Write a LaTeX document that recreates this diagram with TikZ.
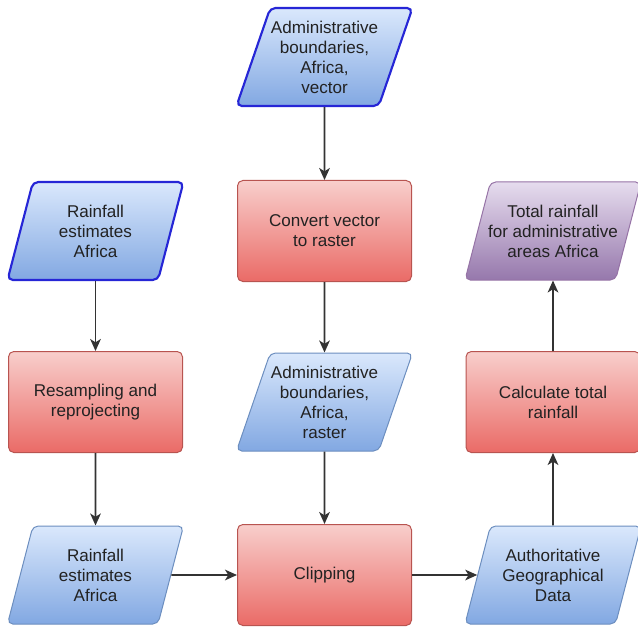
\documentclass[tikz,border=0pt]{standalone}
\usepackage{fontspec}
\setmainfont{Liberation Sans}
\usetikzlibrary{shapes.geometric,arrows.meta}

\definecolor{blueTop}{RGB}{218,232,252}
\definecolor{blueBot}{RGB}{130,168,226}
\definecolor{blueLine}{RGB}{108,142,191}
\definecolor{srcLine}{RGB}{38,38,214}
\definecolor{redTop}{RGB}{248,206,204}
\definecolor{redBot}{RGB}{234,107,102}
\definecolor{redLine}{RGB}{184,84,80}
\definecolor{purpTop}{RGB}{230,220,238}
\definecolor{purpBot}{RGB}{150,120,172}
\definecolor{purpLine}{RGB}{150,115,166}
\definecolor{arrowGray}{RGB}{51,51,51}
\definecolor{txtGray}{RGB}{34,34,34}

\tikzset{every picture/.style={line width=0.75pt}}
\tikzset{
  dataio/.style={trapezium, trapezium left angle=67.5, trapezium right angle=112.5,
    trapezium stretches body, minimum width=132pt, minimum height=73.5pt,
    inner xsep=-12pt, rounded corners=4pt, draw=blueLine,
    top color=blueTop, bottom color=blueBot, text=txtGray, align=center,
    font=\fontsize{12.8}{15}\selectfont},
  srcio/.style={dataio, draw=srcLine, line width=1.6pt},
  resultio/.style={dataio, draw=purpLine, top color=purpTop, bottom color=purpBot},
  procbox/.style={rectangle, rounded corners=4pt, minimum width=130.5pt,
    minimum height=75.75pt, draw=redLine, top color=redTop, bottom color=redBot,
    text=txtGray, align=center, font=\fontsize{12.8}{15}\selectfont},
  flow/.style={draw=arrowGray, line width=1.2pt, -{Stealth[length=9pt,width=8pt,inset=2.5pt]}}
}

\begin{document}
\begin{tikzpicture}[x=0.75pt,y=0.75pt,yscale=-1,xscale=1]
\useasboundingbox (0,0) rectangle (638,627);

%Shape: Parallelogram [admin vector]
\draw (324.5,57) node [srcio] (advec) {Administrative\\boundaries,\\Africa,\\vector};
%Shape: Parallelogram [rainfall in]
\draw (95.5,231) node [srcio] (rainin) {Rainfall\\estimates\\Africa};
%Shape: Rectangle [convert]
\draw (324.5,231) node [procbox] (conv) {Convert vector\\to raster};
%Shape: Parallelogram [total]
\draw (553,231) node [resultio] (total) {Total rainfall\\for administrative\\areas Africa};

%Shape: Rectangle [resample]
\draw (95.5,402) node [procbox] (resamp) {Resampling and\\reprojecting};
%Shape: Parallelogram [admin raster]
\draw (324.5,402) node [dataio] (adras) {Administrative\\boundaries,\\Africa,\\raster};
%Shape: Rectangle [calculate]
\draw (553,402) node [procbox] (calc) {Calculate total\\rainfall};

%Shape: Parallelogram [rainfall out]
\draw (95.5,575) node [dataio] (rainout) {Rainfall\\estimates\\Africa};
%Shape: Rectangle [clipping]
\draw (324.5,575) node [procbox] (clip) {Clipping};
%Shape: Parallelogram [authoritative]
\draw (553,575) node [dataio] (auth) {Authoritative\\Geographical\\Data};

%Straight Lines
\draw [flow] (advec) -- (conv);
\draw [flow] (conv) -- (adras);
\draw [flow] (adras) -- (clip);
\draw [flow] (rainin) -- (resamp);
\draw [flow] (resamp) -- (rainout);
\draw [flow] (rainout) -- (clip);
\draw [flow] (clip) -- (auth);
\draw [flow] (auth) -- (calc);
\draw [flow] (calc) -- (total);

\end{tikzpicture}
\end{document}
